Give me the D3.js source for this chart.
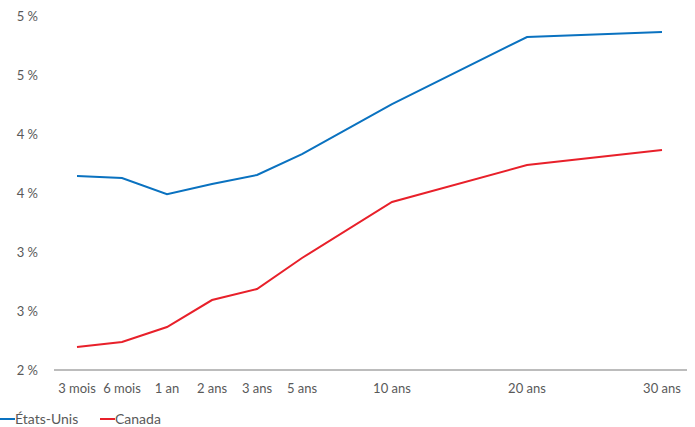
<!DOCTYPE html>
<html>
<head>
<meta charset="utf-8">
<script src="https://cdn.jsdelivr.net/npm/d3@7"></script>
<style>
  body { margin: 0; background: #fff; }
  text { font-family: Lato, "Open Sans", sans-serif; fill: #595959; }
</style>
</head>
<body>
<div id="chart"></div>
<script>
// maturities and their spacing on the axis (uneven, as in the original)
const maturities = ["3 mois", "6 mois", "1 an", "2 ans", "3 ans", "5 ans", "10 ans", "20 ans", "30 ans"];
const slots = [0, 1, 2, 3, 4, 5, 7, 10, 13];
const usYields = [3.644, 3.627, 3.49, 3.576, 3.653, 3.83, 4.254, 4.822, 4.864];
const caYields = [2.195, 2.237, 2.364, 2.593, 2.686, 2.949, 3.424, 3.737, 3.864];
const yTicks = [2, 2.5, 3, 3.5, 4, 4.5, 5];

const width = 695, height = 427;
const margin = {top: 16, right: 33, bottom: 57, left: 54};

const svg = d3.select("#chart")
  .append("svg")
  .attr("width", width)
  .attr("height", height);

const x = d3.scaleLinear()
  .domain([0, 13])
  .range([77, 662]);

const y = d3.scaleLinear()
  .domain([2, 5])
  .range([height - margin.bottom, margin.top]);

// y labels (no axis line, no grid)
svg.append("g")
  .selectAll("text")
  .data(yTicks)
  .enter()
  .append("text")
  .attr("x", 38)
  .attr("y", d => y(d))
  .attr("dy", "0.35em")
  .attr("text-anchor", "end")
  .style("font-size", "13px")
  .text(d => Math.round(d) + " %");

// x axis line
svg.append("line")
  .attr("x1", margin.left)
  .attr("x2", width - 8)
  .attr("y1", y(2))
  .attr("y2", y(2))
  .attr("stroke", "#a6a6a6")
  .attr("stroke-width", 1.5);

svg.append("g")
  .selectAll("text")
  .data(maturities)
  .enter()
  .append("text")
  .attr("x", (d, i) => x(slots[i]))
  .attr("y", 393)
  .attr("text-anchor", "middle")
  .style("font-size", "13px")
  .text(d => d);

const line = d3.line()
  .x((d, i) => x(slots[i]))
  .y(d => y(d));

const series = [
  {name: "États-Unis", values: usYields, color: "#0a72c0"},
  {name: "Canada", values: caYields, color: "#e8202a"}
];

series.forEach(s => {
  svg.append("path")
    .datum(s.values)
    .attr("fill", "none")
    .attr("stroke", s.color)
    .attr("stroke-width", 2)
    .attr("d", line);
});

// legend
const legend = svg.append("g").attr("transform", "translate(0,419)");
const legendX = [0, 100];
series.forEach((s, i) => {
  legend.append("line")
    .attr("x1", legendX[i])
    .attr("x2", legendX[i] + 15)
    .attr("stroke", s.color)
    .attr("stroke-width", 2);
  legend.append("text")
    .attr("x", legendX[i] + 15)
    .attr("dy", "0.35em")
    .style("font-size", "14px")
    .text(s.name);
});
</script>
</body>
</html>
